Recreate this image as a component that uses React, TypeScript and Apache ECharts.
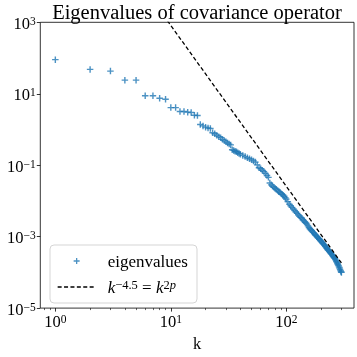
import React, { useEffect, useRef } from 'react';
import * as echarts from 'echarts';

// ---------- data ----------
const kValues = [
  1, 2, 3, 4, 5, 6, 7, 8, 9, 10, 11, 12, 13, 14, 15, 16, 17, 18, 19, 20,
  21, 22, 23, 24, 25, 26, 27, 28, 29, 30, 31, 32, 33, 34, 35, 36, 37, 38, 39, 40,
  42, 44, 46, 48, 50, 52, 54, 56, 58, 60, 62, 64, 66, 68, 70, 72, 74, 76, 78, 80,
  82, 84, 86, 88, 90, 92, 94, 96, 98, 100,
  103, 106, 109, 112, 115, 118, 121, 124, 127, 130, 133, 136, 139, 142, 145, 148,
  151, 154, 157, 160, 163, 166, 169, 172, 175, 178, 181, 184, 187, 190, 193, 196,
  199, 202, 205, 208, 211, 214, 217, 220, 223, 226, 229, 232, 235, 238, 241, 244,
  247, 250, 253, 256, 259, 262, 265, 268, 271, 274, 277, 280, 283, 286, 289, 292,
  295, 298, 300,
];

const eigenvalues = [
  90, 48, 43, 24, 24, 8.8, 8.8, 7.5, 7.0, 4.1, 4.1, 3.2, 3.2, 3.05, 3.0, 2.5, 2.45, 1.38, 1.26, 1.16,
  1.1, 1.07, 0.81, 0.76, 0.69, 0.63, 0.59, 0.53, 0.49, 0.45, 0.42, 0.39, 0.37, 0.272, 0.26, 0.245, 0.237, 0.224, 0.214, 0.204,
  0.188, 0.174, 0.162, 0.151, 0.141, 0.132, 0.122, 0.102, 0.0851, 0.0794, 0.0724, 0.0661, 0.0589, 0.0513, 0.0457, 0.0316, 0.0282, 0.0257, 0.024, 0.0224,
  0.0213, 0.0197, 0.0182, 0.0174, 0.0162, 0.0153, 0.0145, 0.0135, 0.0123, 0.0112,
  0.00955, 0.00813, 0.00733, 0.00661, 0.00596, 0.00537, 0.0049, 0.00447, 0.00407, 0.00376, 0.00347, 0.00326, 0.00296, 0.00277, 0.00257, 0.0024,
  0.00224, 0.002, 0.0018, 0.00166, 0.00156, 0.00146, 0.00136, 0.0013, 0.00121, 0.00113, 0.00107, 0.001, 9.48e-4, 8.95e-4, 8.47e-4, 8.0e-4,
  7.59e-4, 7.16e-4, 6.76e-4, 6.38e-4, 6.08e-4, 5.69e-4, 5.37e-4, 5.09e-4, 4.82e-4, 4.57e-4, 4.3e-4, 4.12e-4, 3.91e-4, 3.72e-4, 3.54e-4, 3.37e-4,
  3.2e-4, 3.04e-4, 2.88e-4, 2.75e-4, 2.61e-4, 2.49e-4, 2.37e-4, 2.2e-4, 2.05e-4, 1.91e-4, 1.78e-4, 1.66e-4, 1.55e-4, 1.43e-4, 1.32e-4, 1.21e-4,
  1.12e-4, 1.04e-4, 1.0e-4,
];

// reference power law  C * k^-4.5
const powerLawK = [1, 300];
const powerLawScale = 2.57e7;
const powerLawExponent = -4.5;

const xMajorTicks = [1, 10, 100];
const xMinorTicks = [0.8, 0.9, 2, 3, 4, 5, 6, 7, 8, 9, 20, 30, 40, 50, 60, 70, 80, 90, 200, 300];
const yMajorTicks = [1e-5, 1e-3, 1e-1, 1e1, 1e3];
const xRange = [0.741, 385.5];
const yRange = [1e-5, 1e3];

const scatterName = 'eigenvalues';
const lineName = 'k^{-4.5} = k^{2p}';
const titleText = 'Eigenvalues of covariance operator';
const xName = 'k';

// ---------- styles ----------
const serif = 'Liberation Serif';
const blue = '#1f77b4';
const lg = (v: number) => Math.log10(v);
const sup = (e: number) => (e < 0 ? '\u2212' + Math.abs(e) : String(e));
const tickFormatter = (v: number) => `{b|10}{e|${sup(Math.round(v))}}`;
const tickRich = {
  b: { fontFamily: serif, fontSize: 16.5, lineHeight: 17, color: '#000' },
  e: { fontFamily: serif, fontSize: 11.5, lineHeight: 7, verticalAlign: 'top', color: '#000' },
};
const tickLine = { color: '#000', width: 0.8 };

export default function App() {
  const ref = useRef<HTMLDivElement>(null);

  useEffect(() => {
    if (!ref.current) return;
    const chart = echarts.init(ref.current, null, { renderer: 'svg' });

    const xMin = lg(xRange[0]);
    const xMax = lg(xRange[1]);

    const option: any = {
      animation: false,
      title: {
        text: titleText,
        left: 197,
        top: 1,
        padding: 0,
        textAlign: 'center',
        textStyle: { fontFamily: serif, fontSize: 20.5, fontWeight: 'normal', color: '#000', lineHeight: 21 },
      },
      grid: {
        left: 40.3, right: 3, top: 22.3, bottom: 44.2,
        show: true, borderColor: '#000', borderWidth: 0.8, backgroundColor: 'transparent',
      },
      xAxis: [
        {
          type: 'value', min: xMin, max: xMax, position: 'bottom',
          name: xName, nameLocation: 'middle', nameGap: 23,
          nameTextStyle: { fontFamily: serif, fontSize: 16.5, color: '#000', lineHeight: 17 },
          axisLine: { show: false, onZero: false },
          splitLine: { show: false },
          axisTick: { show: true, customValues: xMajorTicks.map(lg), length: 3.5, lineStyle: tickLine },
          axisLabel: { customValues: xMajorTicks.map(lg), formatter: tickFormatter, rich: tickRich, margin: 5 },
        },
        {
          type: 'value', min: xMin, max: xMax, position: 'bottom',
          axisLine: { show: false, onZero: false },
          splitLine: { show: false },
          axisTick: { show: true, customValues: xMinorTicks.map(lg), length: 2, lineStyle: { color: '#000', width: 0.6 } },
          axisLabel: { show: false },
        },
      ],
      yAxis: {
        type: 'value', min: lg(yRange[0]), max: lg(yRange[1]),
        axisLine: { show: false, onZero: false },
        splitLine: { show: false },
        axisTick: { show: true, customValues: yMajorTicks.map(lg), length: 3.5, lineStyle: tickLine },
        axisLabel: { customValues: yMajorTicks.map(lg), formatter: tickFormatter, rich: tickRich, margin: 4.5, padding: [2, 0, 0, 0] },
      },
      legend: {
        orient: 'vertical', left: 57, top: 252, padding: 0,
        itemWidth: 38, itemHeight: 6, itemGap: 8, selectedMode: false, z: 6,
        textStyle: {
          fontFamily: serif, fontSize: 17, color: '#000', lineHeight: 18, padding: [0, 0, 0, 7],
          rich: {
            i: { fontFamily: serif, fontStyle: 'italic', fontSize: 17, lineHeight: 18, color: '#000' },
            n: { fontFamily: serif, fontSize: 17, lineHeight: 18, color: '#000' },
            s: { fontFamily: serif, fontSize: 12.5, lineHeight: 2, verticalAlign: 'top', color: '#000' },
            si: { fontFamily: serif, fontStyle: 'italic', fontSize: 12.5, lineHeight: 2, verticalAlign: 'top', color: '#000' },
          },
        },
        formatter: (name: string) =>
          name === lineName ? '{i|k}{s|\u22124.5}{n| = }{i|k}{s|2}{si|p}' : name,
        data: [
          { name: scatterName, itemStyle: { color: 'rgba(0,0,0,0)', borderColor: blue, borderWidth: 1.3 } },
          { name: lineName, itemStyle: { opacity: 0 }, lineStyle: { color: '#000', width: 1.3, type: [4, 2.4] } },
        ],
      },
      graphic: [
        {
          type: 'rect', z: 5, silent: true,
          shape: { x: 50, y: 245, width: 147, height: 58, r: 4 },
          style: { fill: 'rgba(255,255,255,0.8)', stroke: '#d5d5d5', lineWidth: 1 },
        },
      ],
      series: [
        {
          type: 'scatter', name: scatterName, xAxisIndex: 0, yAxisIndex: 0,
          data: kValues.map((k, i) => [lg(k), lg(eigenvalues[i])]),
          symbol: 'path://M0,3L6,3M3,0L3,6', symbolSize: 6.5,
          itemStyle: { color: 'rgba(0,0,0,0)', borderColor: blue, borderWidth: 1.4 },
          silent: true, z: 3,
        },
        {
          type: 'line', name: lineName, xAxisIndex: 0, yAxisIndex: 0,
          data: powerLawK.map((k) => [lg(k), lg(powerLawScale * Math.pow(k, powerLawExponent))]),
          symbol: 'none', clip: true,
          lineStyle: { color: '#000', width: 1.3, type: [4, 2.4] },
          itemStyle: { opacity: 0 },
          silent: true, z: 4,
        },
      ],
    };

    chart.setOption(option);
    return () => chart.dispose();
  }, []);

  return (
    <div
      ref={ref}
      style={{ position: 'fixed', left: 0, top: 0, width: 357, height: 357 }}
    />
  );
}
